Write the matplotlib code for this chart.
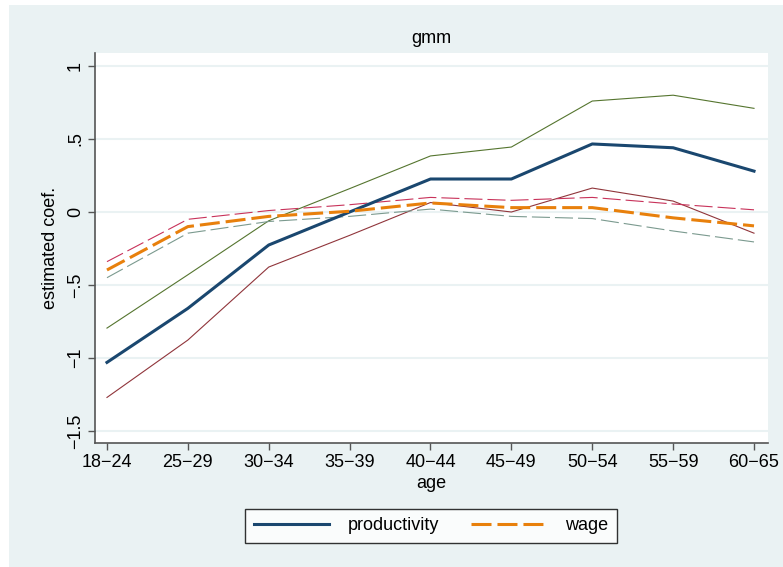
import matplotlib
matplotlib.use("Agg")
import matplotlib.pyplot as plt
from matplotlib.patches import Rectangle

plt.rcParams['font.family'] = ['Liberation Sans', 'DejaVu Sans']
plt.rcParams['lines.scale_dashes'] = False

# age groups on the x axis
ages = ["18\u221224", "25\u221229", "30\u221234", "35\u221239", "40\u221244",
        "45\u221249", "50\u221254", "55\u221259", "60\u221265"]

# productivity estimate and its bounds
prod = [-1.03, -0.66, -0.226, 0.0, 0.226, 0.226, 0.466, 0.44, 0.28]
prod_hi = [-0.795, -0.43, -0.06, 0.16, 0.384, 0.445, 0.76, 0.80, 0.71]
prod_lo = [-1.27, -0.877, -0.377, -0.16, 0.065, 0.0, 0.164, 0.075, -0.145]

# wage estimate and its bounds
wage = [-0.397, -0.10, -0.03, 0.005, 0.062, 0.03, 0.03, -0.04, -0.095]
wage_hi = [-0.34, -0.05, 0.01, 0.05, 0.10, 0.08, 0.10, 0.055, 0.015]
wage_lo = [-0.45, -0.145, -0.065, -0.03, 0.02, -0.03, -0.045, -0.13, -0.205]

yticks = [1, 0.5, 0, -0.5, -1, -1.5]
ylabels = ["1", ".5", "0", "\u2212.5", "\u22121", "\u22121.5"]

bg = '#eaf2f3'
W, H = 783, 567
fig = plt.figure(figsize=(W / 100, H / 100), dpi=100)
fig.patch.set_facecolor('white')
fig.patches.append(Rectangle((9 / W, 0), 1, 1 - 5 / H, transform=fig.transFigure,
                             facecolor=bg, edgecolor='none', zorder=-10))

ax = fig.add_axes([95 / W, (H - 443) / H, (768 - 95) / W, (443 - 53) / H])
ax.set_facecolor('white')

x = list(range(len(ages)))
dash = (0, (13, 3.6))
ax.plot(x, prod_hi, color='#55752f', lw=0.8, zorder=3)
ax.plot(x, prod_lo, color='#90353b', lw=0.8, zorder=3)
ax.plot(x, wage_hi, color='#c8325a', lw=0.8, ls=dash, zorder=3)
ax.plot(x, wage_lo, color='#7b9a8f', lw=0.8, ls=dash, zorder=3)
ax.plot(x, prod, color='#1a476f', lw=2.2, label='productivity', zorder=4)
ax.plot(x, wage, color='#e8800c', lw=2.2, ls=(0, (14.4, 4.3)), label='wage', zorder=4)

ax.set_xlim(-0.148, 8.173)
ax.set_ylim(-1.582, 1.089)
ax.set_xticks(x)
ax.set_xticklabels(ages)
ax.set_yticks(yticks)
ax.set_yticklabels(ylabels, rotation=90, va='center')
ax.grid(axis='y', color=bg, lw=1.5)
ax.set_axisbelow(True)

for s in ['top', 'right']:
    ax.spines[s].set_visible(False)
for s in ['left', 'bottom']:
    ax.spines[s].set_color('#555555')
    ax.spines[s].set_linewidth(1.2)
ax.tick_params(axis='both', length=5, width=1, color='#555555', labelsize=13, pad=3)

ax.set_title('gmm', fontsize=13, pad=7)
ax.set_xlabel('age', fontsize=13, labelpad=3)
ax.set_ylabel('estimated coef.', fontsize=13, labelpad=6)

leg = fig.legend(loc='center', bbox_to_anchor=(431 / W, 1 - 526 / H), ncol=2,
                 fontsize=13, frameon=True, fancybox=False, handlelength=4.2,
                 columnspacing=1.8, borderpad=0.45, handletextpad=1.0)
leg.get_frame().set_edgecolor('black')
leg.get_frame().set_linewidth(1)

fig.savefig('out.png', dpi=100, facecolor=fig.get_facecolor())
